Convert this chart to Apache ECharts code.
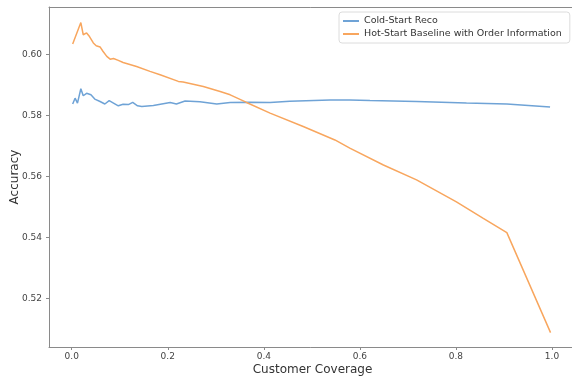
<!DOCTYPE html>
<html><head><meta charset="utf-8">
<script src="https://cdn.jsdelivr.net/npm/echarts@6/dist/echarts.min.js"></script>
<style>html,body{margin:0;padding:0;background:#fff}#c{width:572px;height:377px}</style>
</head><body><div id="c"></div>
<script>
const coldX = [0.002,0.007,0.012,0.019,0.024,0.031,0.040,0.048,0.059,0.069,0.078,0.087,0.097,0.107,0.118,0.127,0.137,0.146,0.170,0.205,0.218,0.236,0.267,0.302,0.330,0.371,0.413,0.454,0.538,0.579,0.621,0.718,0.822,0.906,0.996];
const coldY = [0.5837,0.5856,0.5840,0.5887,0.5864,0.5872,0.5867,0.5853,0.5845,0.5837,0.5848,0.5840,0.5831,0.5836,0.5835,0.5842,0.5831,0.5829,0.5832,0.5842,0.5837,0.5847,0.5844,0.5837,0.5842,0.5843,0.5842,0.5846,0.5850,0.5850,0.5848,0.5845,0.5840,0.5837,0.5827];
const hotX = [0.002,0.019,0.024,0.031,0.037,0.045,0.051,0.059,0.065,0.073,0.080,0.087,0.097,0.107,0.135,0.163,0.184,0.222,0.232,0.274,0.309,0.330,0.364,0.413,0.482,0.548,0.579,0.649,0.718,0.801,0.857,0.906,0.997];
const hotY = [0.6034,0.6104,0.6064,0.6070,0.6058,0.6037,0.6028,0.6024,0.6010,0.5993,0.5984,0.5986,0.5980,0.5973,0.5960,0.5944,0.5933,0.5911,0.5909,0.5894,0.5878,0.5867,0.5842,0.5807,0.5763,0.5719,0.5692,0.5637,0.5588,0.5516,0.5462,0.5415,0.5087];
const xTicks = [0, 0.2, 0.4, 0.6, 0.8, 1.0];
const yTicks = [0.52, 0.54, 0.56, 0.58, 0.60];
const seriesNames = ['Cold-Start Reco', 'Hot-Start Baseline with Order Information'];

const pair = (xs, ys) => xs.map((x, i) => [x, ys[i]]);
const axisCol = '#8a8a8a';
const txtCol = '#444';
const chart = echarts.init(document.getElementById('c'));
chart.setOption({
  animation: false,
  grid: { left: 49, top: 7, right: -4, bottom: 30, containLabel: false, outerBoundsMode: 'none' },
  legend: {
    orient: 'vertical', left: 339, top: 12, itemGap: 3,
    itemWidth: 16, itemHeight: 2, icon: 'rect',
    borderColor: '#dcdcdc', borderWidth: 1, borderRadius: 3, padding: [4, 8, 4, 4],
    textStyle: { fontSize: 9.5, color: '#333', fontFamily: 'DejaVu Sans' },
    data: seriesNames
  },
  xAxis: [{
    type: 'value', min: -0.0473, max: 1.05,
    name: 'Customer Coverage', nameLocation: 'middle', nameGap: 17, nameMoveOverlap: false,
    nameTextStyle: { fontSize: 12, color: '#333', fontFamily: 'DejaVu Sans' },
    axisLine: { onZero: false, lineStyle: { color: axisCol } },
    axisTick: { show: true, length: 3, customValues: xTicks, lineStyle: { color: axisCol } },
    axisLabel: { customValues: xTicks, fontSize: 9, color: txtCol, fontFamily: 'DejaVu Sans', margin: 5,
      formatter: v => v.toFixed(1) },
    splitLine: { show: false }
  }, {
    type: 'value', position: 'top', min: -0.0473, max: 1.05,
    axisLine: { show: true, onZero: false, lineStyle: { color: axisCol } },
    axisTick: { show: false }, axisLabel: { show: false }, splitLine: { show: false }
  }],
  yAxis: {
    type: 'value', min: 0.504, max: 0.6155,
    name: 'Accuracy', nameLocation: 'middle', nameGap: 28, nameMoveOverlap: false,
    nameTextStyle: { fontSize: 12, color: '#333', fontFamily: 'DejaVu Sans' },
    axisLine: { show: true, onZero: false, lineStyle: { color: axisCol } },
    axisTick: { show: true, length: 3, customValues: yTicks, lineStyle: { color: axisCol } },
    axisLabel: { customValues: yTicks, fontSize: 9, color: txtCol, fontFamily: 'DejaVu Sans', margin: 7,
      formatter: v => v.toFixed(2) },
    splitLine: { show: false }
  },
  series: [{
    name: seriesNames[0], type: 'line', data: pair(coldX, coldY), showSymbol: false,
    lineStyle: { color: '#6fa3d6', width: 1.5 }, itemStyle: { color: '#6fa3d6' }
  }, {
    name: seriesNames[1], type: 'line', data: pair(hotX, hotY), showSymbol: false,
    lineStyle: { color: '#f8a65e', width: 1.5 }, itemStyle: { color: '#f8a65e' }
  }]
});
</script></body></html>
